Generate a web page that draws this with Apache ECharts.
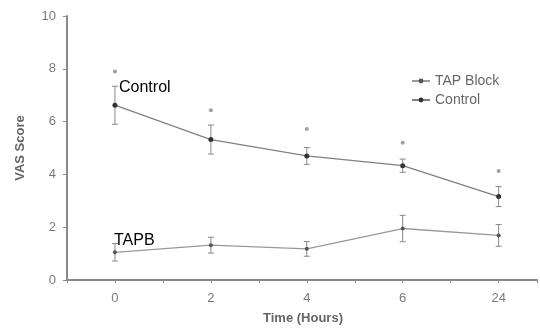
<!DOCTYPE html>
<html><head><meta charset="utf-8">
<script src="https://cdn.jsdelivr.net/npm/echarts@6/dist/echarts.min.js"></script>
<style>html,body{margin:0;padding:0;background:#fff}#c{width:540px;height:330px}</style>
</head><body><div id="c"></div>
<script>
const categories = ['0', '2', '4', '6', '24'];
const tapMean = [1.05, 1.32, 1.18, 1.95, 1.69];
const tapErr = [0.33, 0.3, 0.28, 0.5, 0.41];
const ctrlMean = [6.62, 5.32, 4.7, 4.33, 3.16];
const ctrlErr = [0.72, 0.55, 0.32, 0.25, 0.38];
const sigMarks = [7.9, 6.43, 5.72, 5.2, 4.13];
const yTicks = [0, 2, 4, 6, 8, 10];

const chart = echarts.init(document.getElementById('c'));
const axisGrey = '#8a8a8a';
const labGrey = '#7a7a7a';

function errSeries(mean, err, color) {
  const data = mean.map((m, i) => [i, m - err[i], m + err[i]]);
  return {
    type: 'custom', silent: true, z: 3,
    renderItem: function (params, api) {
      const x = api.value(0);
      const lo = api.coord([x, api.value(1)]);
      const hi = api.coord([x, api.value(2)]);
      const w = 3;
      const st = {stroke: color, lineWidth: 1};
      return {type: 'group', children: [
        {type: 'line', shape: {x1: lo[0], y1: lo[1], x2: hi[0], y2: hi[1]}, style: st},
        {type: 'line', shape: {x1: lo[0]-w, y1: lo[1], x2: lo[0]+w, y2: lo[1]}, style: st},
        {type: 'line', shape: {x1: hi[0]-w, y1: hi[1], x2: hi[0]+w, y2: hi[1]}, style: st}
      ]};
    },
    encode: {x: 0, y: [1, 2]},
    data: data
  };
}

chart.setOption({
  animation: false,
  grid: {left: 67, right: 0, top: 16, bottom: 48, containLabel: false},
  xAxis: {
    type: 'value', min: -0.5, max: 4.4, interval: 0.5,
    name: 'Time (Hours)', nameLocation: 'middle', nameGap: 32,
    nameTextStyle: {fontFamily: 'Liberation Sans', fontWeight: 'bold', fontSize: 13, color: '#666', padding: [0, 0, 0, 2]},
    axisLine: {onZero: false, lineStyle: {color: axisGrey, width: 2}},
    axisTick: {show: true, length: 3, lineStyle: {color: axisGrey}},
    axisLabel: {
      margin: 12, fontFamily: 'Liberation Sans', fontSize: 13, color: labGrey,
      formatter: function (v) { return Number.isInteger(v) ? categories[v] : ''; }
    },
    splitLine: {show: false}
  },
  yAxis: {
    type: 'value', min: 0, max: 10, interval: 2,
    name: 'VAS Score', nameLocation: 'middle', nameGap: 40, nameRotate: 90,
    nameTextStyle: {fontFamily: 'Liberation Sans', fontWeight: 'bold', fontSize: 13, color: '#666'},
    axisLine: {show: true, onZero: false, lineStyle: {color: axisGrey, width: 2}},
    axisTick: {show: true, length: 4, lineStyle: {color: axisGrey}},
    axisLabel: {margin: 11, fontFamily: 'Liberation Sans', fontSize: 13, color: labGrey,
      formatter: function (v) { return yTicks.indexOf(v) >= 0 ? String(v) : ''; }},
    splitLine: {show: false}
  },
  legend: {
    left: 406, top: 69, orient: 'vertical', itemGap: 5,
    itemWidth: 18, itemHeight: 6,
    textStyle: {fontFamily: 'Liberation Sans', fontSize: 14, color: '#666'},
    data: ['TAP Block', 'Control']
  },
  series: [
    {
      name: 'TAP Block', type: 'line', z: 4,
      data: tapMean.map((v, i) => [i, v]),
      symbol: 'circle', symbolSize: 4,
      itemStyle: {color: '#555'},
      lineStyle: {color: '#999', width: 1.3}
    },
    {
      name: 'Control', type: 'line', z: 4,
      data: ctrlMean.map((v, i) => [i, v]),
      symbol: 'circle', symbolSize: 5,
      itemStyle: {color: '#333'},
      lineStyle: {color: '#808080', width: 1.3}
    },
    errSeries(tapMean, tapErr, '#888'),
    errSeries(ctrlMean, ctrlErr, '#888'),
    {
      type: 'scatter', silent: true,
      data: sigMarks.map((v, i) => [i, v]),
      symbol: 'circle', symbolSize: 4,
      itemStyle: {color: '#888'}
    }
  ],
  graphic: [
    {type: 'text', left: 119, top: 80, style: {text: 'Control', font: '16px "Liberation Sans"', fill: '#000'}},
    {type: 'text', left: 114, top: 233, style: {text: 'TAPB', font: '16px "Liberation Sans"', fill: '#000'}}
  ]
});
</script></body></html>
